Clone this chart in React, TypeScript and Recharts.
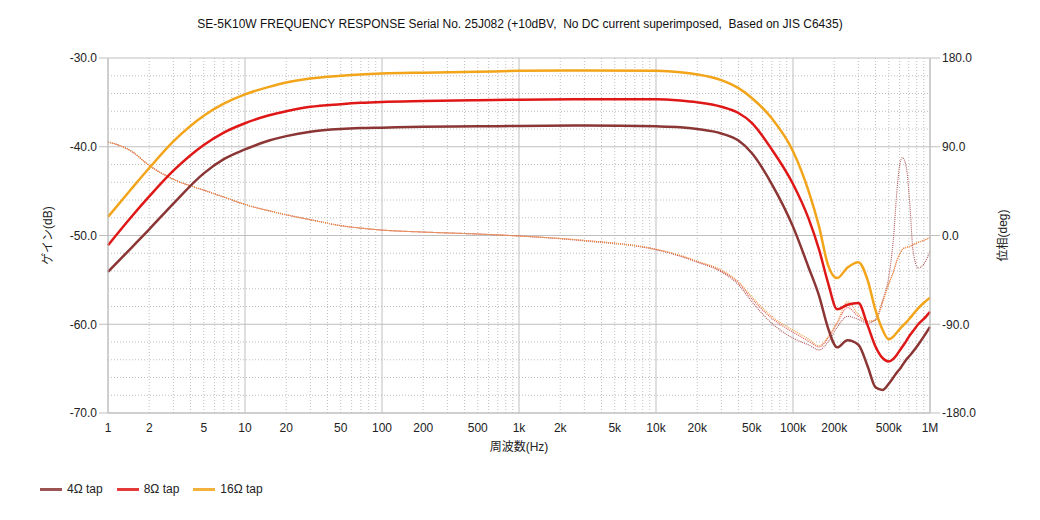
import React from "react";
import {
  LineChart,
  Line,
  XAxis,
  YAxis,
  ReferenceLine,
  Legend,
} from "recharts";

// sample frequencies (Hz)
const freqs = [
  1, 1.5, 2, 3, 5, 7, 10, 15, 20, 30, 50, 70, 100, 200, 500, 1000, 3000, 10000,
  15000, 20000, 30000, 40000, 50000, 70000, 100000, 130000, 155000, 180000,
  210000, 250000, 300000, 350000, 400000, 450000, 500000, 540000, 575000,
  605000, 630000, 670000, 715000, 750000, 820000, 900000, 1000000,
];

// gain (dB)
const gain4 = [
  -54.1, -51.3, -49.3, -46.4, -43.0, -41.4, -40.3, -39.3, -38.8, -38.3, -38.0,
  -37.9, -37.85, -37.75, -37.7, -37.65, -37.6, -37.7, -37.8, -38.0, -38.5,
  -39.3, -40.7, -44.2, -49.0, -53.6, -56.8, -60.4, -62.6, -61.8, -62.3, -64.7,
  -67.1, -67.4, -66.7, -66.0, -65.4, -65.0, -64.6, -64.0, -63.5, -63.1, -62.3,
  -61.4, -60.3,
];
const gain8 = [
  -51.1, -47.8, -45.6, -42.7, -39.8, -38.4, -37.35, -36.45, -36.0, -35.5,
  -35.2, -35.05, -34.95, -34.85, -34.75, -34.7, -34.65, -34.65, -34.8, -35.0,
  -35.5, -36.2, -37.3, -40.3, -44.2, -48.1, -51.6, -55.3, -58.3, -57.8, -57.6,
  -60.1, -62.5, -63.8, -64.2, -63.9, -63.4, -62.9, -62.5, -61.9, -61.2, -60.8,
  -60.0, -59.4, -58.6,
];
const gain16 = [
  -47.9, -44.65, -42.4, -39.4, -36.5, -35.15, -34.1, -33.25, -32.75, -32.3,
  -32.0, -31.85, -31.75, -31.65, -31.55, -31.45, -31.4, -31.45, -31.6, -31.85,
  -32.5, -33.4, -34.5, -36.8, -40.5, -45.0, -49.0, -53.3, -54.8, -53.6, -53.0,
  -55.0, -58.4, -60.6, -61.7, -61.4, -60.9, -60.5, -60.2, -59.8, -59.3, -58.9,
  -58.2, -57.6, -57.0,
];

// phase (deg)
const phase4 = [
  95, 85, 71, 57, 46, 39, 31.5, 25, 21, 16, 10, 7.5, 5.5, 3.5, 1.5, -0.5, -5.5,
  -14.5, -21, -27, -37, -50, -67, -89, -104, -111, -116, -108, -93, -82, -85,
  -89, -85, -66, -42, -4, 47, 74, 79, 70, 29, -14, -33, -29, -16,
];
const phase8 = [
  95, 85, 71, 57, 46, 39, 31.5, 25, 21, 16, 10, 7.5, 5.5, 3.5, 1.5, -0.5, -5,
  -14, -20.5, -26.5, -36, -48, -64, -84, -98, -107, -113, -104, -89, -73, -82,
  -87, -86, -68, -49, -37, -25, -18, -14, -12, -11, -9.5, -7, -5, -2,
];
const phase16 = [
  95, 85, 71, 57, 46, 39, 31.5, 25, 21, 16, 10, 7.5, 5.5, 3.5, 1.5, -0.5, -5,
  -14, -20, -26, -35, -47, -62, -82, -96, -105, -112, -103, -88, -67, -80, -87,
  -86, -68, -49, -37, -25, -18, -14, -12, -11, -9.5, -7, -5, -2,
];

const xTicks = [
  1, 2, 5, 10, 20, 50, 100, 200, 500, 1000, 2000, 5000, 10000, 20000, 50000,
  100000, 200000, 500000, 1000000,
];
const gainTicks = [-70, -60, -50, -40, -30];
const phaseTicks = [-180, -90, 0, 90, 180];

const taps = [
  { key: "4", name: "4Ω tap", color: "#8B3535" },
  { key: "8", name: "8Ω tap", color: "#DF1717" },
  { key: "16", name: "16Ω tap", color: "#F2A51A" },
];

const rows = freqs.map((f, i) => ({
  f,
  g4: gain4[i],
  g8: gain8[i],
  g16: gain16[i],
  p4: phase4[i],
  p8: phase8[i],
  p16: phase16[i],
}));

// grid lines: 1..9 per decade, every 2 dB
const vGrid: number[] = [];
for (let d = 0; d < 6; d++) {
  for (let m = 1; m < 10; m++) vGrid.push(m * Math.pow(10, d));
}
vGrid.push(1000000);
const hGrid: number[] = [];
for (let v = -70; v <= -30; v += 2) hGrid.push(v);

const FONT = "'Liberation Sans', Arial, 'Noto Sans CJK JP', sans-serif";

const fmtFreq = (f: number) => {
  if (f >= 1000000) return f / 1000000 + "M";
  if (f >= 1000) return f / 1000 + "k";
  return String(f);
};

const renderLegend = () => (
  <div style={{ display: "flex", fontFamily: FONT, fontSize: 12 }}>
    {taps.map((t) => (
      <div
        key={t.key}
        style={{ display: "flex", alignItems: "center", marginRight: 14 }}
      >
        <span
          style={{
            display: "inline-block",
            width: 22,
            height: 3,
            background: t.color,
            opacity: 0.85,
            marginRight: 5,
          }}
        />
        <span style={{ color: "#222" }}>{t.name}</span>
      </div>
    ))}
  </div>
);

export default function App() {
  return (
    <div
      style={{
        position: "absolute",
        left: 0,
        top: 0,
        width: 1040,
        height: 520,
        background: "#fff",
        fontFamily: FONT,
      }}
    >
      <div
        style={{
          position: "absolute",
          top: 16,
          width: 1040,
          textAlign: "center",
          fontSize: 12,
          lineHeight: "16px",
          color: "#111",
          whiteSpace: "pre",
        }}
      >
        {"SE-5K10W FREQUENCY RESPONSE Serial No. 25J082 (+10dBV,  No DC current superimposed,  Based on JIS C6435)"}
      </div>
      <LineChart
        width={1040}
        height={520}
        data={rows}
        margin={{ top: 58, right: 30, bottom: 67, left: 38 }}
        style={{ fontFamily: FONT }}
      >
        <XAxis
          dataKey="f"
          type="number"
          scale="log"
          domain={[1, 1000000]}
          ticks={xTicks}
          tickFormatter={fmtFreq}
          tickLine={false}
          axisLine={{ stroke: "#BFBFBF" }}
          tick={{ fill: "#222", fontSize: 12 }}
          tickMargin={4}
          height={40}
          interval={0}
          label={{
            value: "周波数(Hz)",
            position: "insideBottom",
            offset: 2,
            style: { fill: "#222", fontSize: 12 },
          }}
        />
        <YAxis
          yAxisId="gain"
          domain={[-70, -30]}
          ticks={gainTicks}
          tickFormatter={(v: number) => v.toFixed(1)}
          width={70}
          tickSize={9}
          tickMargin={2}
          tickLine={{ stroke: "#BFBFBF" }}
          axisLine={{ stroke: "#BFBFBF" }}
          tick={{ fill: "#222", fontSize: 12 }}
          label={{
            value: "ゲイン(dB)",
            angle: -90,
            position: "insideLeft",
            offset: 10,
            style: { textAnchor: "middle", fill: "#222", fontSize: 12 },
          }}
        />
        <YAxis
          yAxisId="phase"
          orientation="right"
          domain={[-180, 180]}
          ticks={phaseTicks}
          tickFormatter={(v: number) => v.toFixed(1)}
          width={80}
          tickSize={10}
          tickMargin={2}
          tickLine={{ stroke: "#BFBFBF" }}
          axisLine={{ stroke: "#BFBFBF" }}
          tick={{ fill: "#222", fontSize: 12 }}
          label={{
            value: "位相(deg)",
            angle: -90,
            position: "insideRight",
            offset: 7,
            style: { textAnchor: "middle", fill: "#222", fontSize: 12 },
          }}
        />
        {vGrid.map((v) => (
          <ReferenceLine
            key={"v" + v}
            x={v}
            yAxisId="gain"
            stroke="#BFBFBF"
            strokeDasharray={
              Math.log10(v) % 1 === 0 ? undefined : "1 2"
            }
          />
        ))}
        {hGrid.map((v) => (
          <ReferenceLine
            key={"h" + v}
            y={v}
            yAxisId="gain"
            stroke="#BFBFBF"
            strokeDasharray={v % 10 === 0 ? undefined : "1 2"}
          />
        ))}
        <Line
          yAxisId="phase"
          dataKey="p4"
          type="monotone"
          stroke="#B05A5A"
          strokeWidth={1.1}
          strokeDasharray="1 1"
          dot={false}
          isAnimationActive={false}
          legendType="none"
        />
        <Line
          yAxisId="phase"
          dataKey="p8"
          type="monotone"
          stroke="#E85050"
          strokeWidth={1.1}
          strokeDasharray="1 1"
          dot={false}
          isAnimationActive={false}
          legendType="none"
        />
        <Line
          yAxisId="phase"
          dataKey="p16"
          type="monotone"
          stroke="#F0A040"
          strokeWidth={1.1}
          strokeDasharray="1 1"
          dot={false}
          isAnimationActive={false}
          legendType="none"
        />
        <Line
          yAxisId="gain"
          dataKey="g4"
          name="4Ω tap"
          type="monotone"
          stroke={taps[0].color}
          strokeWidth={2.5}
          dot={false}
          isAnimationActive={false}
        />
        <Line
          yAxisId="gain"
          dataKey="g8"
          name="8Ω tap"
          type="monotone"
          stroke={taps[1].color}
          strokeWidth={2.5}
          dot={false}
          isAnimationActive={false}
        />
        <Line
          yAxisId="gain"
          dataKey="g16"
          name="16Ω tap"
          type="monotone"
          stroke={taps[2].color}
          strokeWidth={2.5}
          dot={false}
          isAnimationActive={false}
        />
        <Legend
          content={renderLegend}
          verticalAlign="middle"
          align="center"
          wrapperStyle={{ left: 40, top: 482, width: "auto" }}
        />
      </LineChart>
    </div>
  );
}
